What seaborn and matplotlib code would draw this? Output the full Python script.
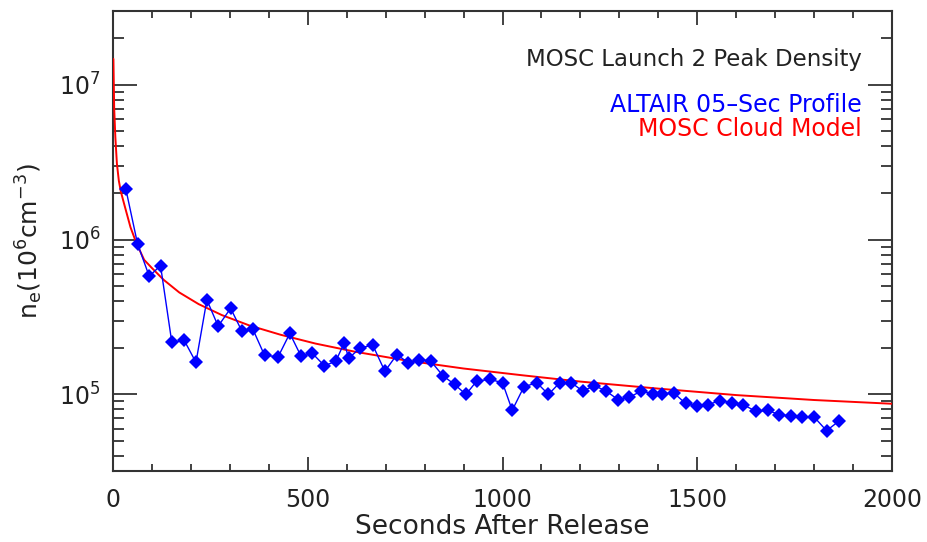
import numpy as np
import pandas as pd
import matplotlib
matplotlib.use("Agg")
import matplotlib.pyplot as plt
from matplotlib.ticker import LogLocator, MultipleLocator
import seaborn as sns

# ALTAIR 05-sec profile (seconds after release, peak density)
altair_t = [33, 63, 93, 122, 151, 183, 213, 241, 270, 302, 331, 359, 389, 424,
            454, 483, 512, 543, 572, 594, 605, 635, 667, 698, 729, 758, 786, 816,
            847, 877, 906, 934, 968, 1000, 1025, 1055, 1088, 1118, 1147, 1177,
            1206, 1236, 1266, 1297, 1326, 1356, 1387, 1410, 1440, 1470, 1499,
            1528, 1558, 1589, 1618, 1650, 1681, 1711, 1740, 1770, 1801, 1832, 1863]
altair_n = [2.12e6, 9.4e5, 5.8e5, 6.8e5, 2.17e5, 2.23e5, 1.61e5, 4.08e5, 2.76e5,
            3.6e5, 2.56e5, 2.64e5, 1.79e5, 1.75e5, 2.48e5, 1.76e5, 1.84e5, 1.53e5,
            1.64e5, 2.16e5, 1.71e5, 2.0e5, 2.08e5, 1.41e5, 1.81e5, 1.60e5, 1.68e5,
            1.64e5, 1.32e5, 1.16e5, 1.0e5, 1.22e5, 1.25e5, 1.19e5, 7.9e4, 1.12e5,
            1.19e5, 1.0e5, 1.19e5, 1.19e5, 1.05e5, 1.14e5, 1.05e5, 9.25e4, 9.6e4,
            1.05e5, 1.01e5, 1.01e5, 1.02e5, 8.75e4, 8.4e4, 8.6e4, 9.1e4, 8.84e4,
            8.6e4, 7.77e4, 7.88e4, 7.4e4, 7.25e4, 7.1e4, 7.1e4, 5.83e4, 6.7e4]

# MOSC cloud model curve
model_t = [1, 3, 6, 10, 15, 20, 30, 45, 60, 80, 100, 130, 170, 220, 280, 350,
           430, 520, 620, 750, 900, 1050, 1200, 1400, 1600, 1800, 2000]
model_n = [1.47e7, 7.1e6, 4.6e6, 3.1e6, 2.4e6, 2.05e6, 1.65e6, 1.2e6, 9.5e5,
           7.4e5, 6.55e5, 5.5e5, 4.56e5, 3.83e5, 3.25e5, 2.79e5, 2.43e5, 2.13e5,
           1.89e5, 1.66e5, 1.47e5, 1.33e5, 1.21e5, 1.09e5, 9.9e4, 9.2e4, 8.7e4]

title_text = "MOSC Launch 2 Peak Density"
altair_label = "ALTAIR 05\u2013Sec Profile"
model_label = "MOSC Cloud Model"
x_label = "Seconds After Release"
y_label = r"n$_{\mathrm{e}}$(10$^{6}$cm$^{-3}$)"

sns.set_theme(style="ticks")
plt.rcParams["font.family"] = ["DejaVu Sans"]
plt.rcParams["mathtext.fontset"] = "dejavusans"

txt = "#222222"
fig = plt.figure(figsize=(9.28, 5.42), dpi=100)
ax = fig.add_axes([113 / 928, 1 - 471 / 542, 779 / 928, 460 / 542])

df_a = pd.DataFrame({"t": altair_t, "n": altair_n})
df_m = pd.DataFrame({"t": model_t, "n": model_n})

sns.lineplot(data=df_m, x="t", y="n", ax=ax, color="#ff0000", lw=1.4,
             estimator=None, sort=False, zorder=3)
sns.lineplot(data=df_a, x="t", y="n", ax=ax, color="#0000ff", lw=1.0,
             marker="D", markersize=7.5, markeredgewidth=0,
             estimator=None, sort=False, zorder=4)

ax.set_yscale("log")
ax.set_xlim(0, 2000)
ax.set_ylim(3.2e4, 3.0e7)

ax.xaxis.set_major_locator(MultipleLocator(500))
ax.xaxis.set_minor_locator(MultipleLocator(100))
ax.yaxis.set_major_locator(LogLocator(base=10, numticks=10))
ax.yaxis.set_minor_locator(LogLocator(base=10, subs=np.arange(2, 10), numticks=20))

ax.tick_params(axis="both", which="major", direction="in", length=17, width=1.3,
               colors="#333333", labelcolor=txt, labelsize=17,
               top=True, right=True, pad=9)
ax.tick_params(axis="both", which="minor", direction="in", length=8, width=1.3,
               colors="#333333", top=True, right=True)
ax.tick_params(axis="x", which="major", length=10, pad=12)
ax.tick_params(axis="x", which="minor", length=5)

for s in ax.spines.values():
    s.set_linewidth(1.5)
    s.set_color("#333333")

ax.set_xlabel(x_label, fontsize=19, color=txt, labelpad=2)
ax.set_ylabel(y_label, fontsize=18, color=txt, labelpad=10)

ax.text(0.9615, 0.8935, title_text, transform=ax.transAxes, ha="right",
        va="center", fontsize=16.5, color=txt)
ax.text(0.9615, 0.7957, altair_label, transform=ax.transAxes, ha="right",
        va="center", fontsize=17, color="#0000ff")
ax.text(0.9615, 0.7435, model_label, transform=ax.transAxes, ha="right",
        va="center", fontsize=17, color="#ff0000")

fig.savefig("out.png", dpi=100, facecolor="white")
